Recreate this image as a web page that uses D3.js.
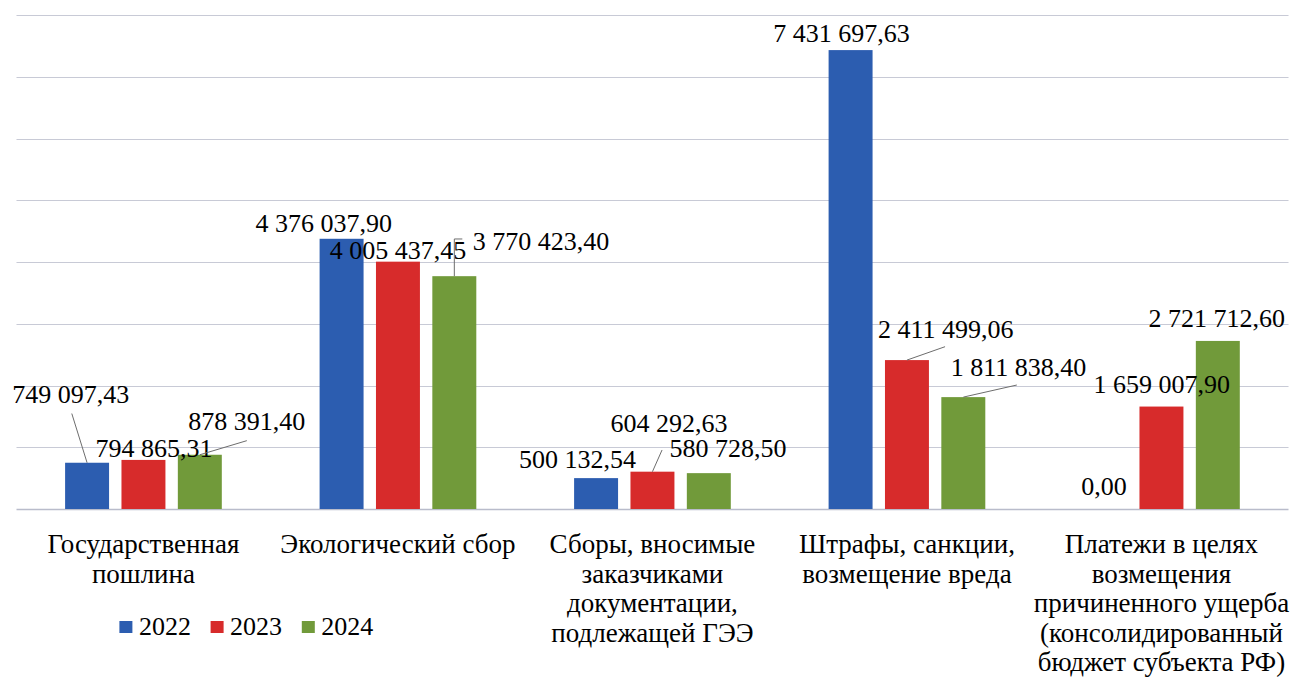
<!DOCTYPE html>
<html><head><meta charset="utf-8">
<script src="https://cdn.jsdelivr.net/npm/d3@7"></script>
</head>
<body style="margin:0">
<svg id="c" width="1291" height="680"></svg>
<script>
const categories = [
  ["Государственная","пошлина"],
  ["Экологический сбор"],
  ["Сборы, вносимые","заказчиками","документации,","подлежащей ГЭЭ"],
  ["Штрафы, санкции,","возмещение вреда"],
  ["Платежи в целях","возмещения","причиненного ущерба","(консолидированный","бюджет субъекта РФ)"]
];
const seriesNames = ["2022","2023","2024"];
const values2022 = [749097.43, 4376037.90, 500132.54, 7431697.63, 0.00];
const values2023 = [794865.31, 4005437.45, 604292.63, 2411499.06, 1659007.90];
const values2024 = [878391.40, 3770423.40, 580728.50, 1811838.40, 2721712.60];
const yTicks = [0,1000000,2000000,3000000,4000000,5000000,6000000,7000000,8000000];

const colors = ["#2C5DB0","#D72B2B","#719A3A"];
const labelLayout = [
  [{dx:-16.3,dy:-59.7,lead:[1,10.5]}, {dx:10.6,dy:-2.9}, {dx:47,dy:-24.8,lead:[0,10.7]}],
  [{dx:-17.9,dy:-6.8}, {dx:0,dy:-2.7}, {dx:86.6,dy:-26.2,elbow:true}],
  [{dx:-18.6,dy:-9.8}, {dx:16.6,dy:-39.7,lead:[-7,18]}, {dx:19.3,dy:-16.4}],
  [{dx:-9.1,dy:-8.1}, {dx:38.9,dy:-21.8,lead:[-0.8,8.4]}, {dx:55.1,dy:-21.4,lead:[-1.6,9.3]}],
  [{dx:-1.1,dy:-14}, {dx:0.3,dy:-13.3}, {dx:-1,dy:-14.2}]
];

const svg = d3.select("#c");
const series = [values2022, values2023, values2024];
const catIdx = categories.map((d,i)=>i);

const x0 = d3.scaleBand().domain(catIdx).range([16.2, 1288.7]).paddingInner(0).paddingOuter(0);
const x1 = d3.scaleBand().domain([0,1,2]).range([48.9, x0.bandwidth()-48.9]).paddingInner(0.22).paddingOuter(0);
const y = d3.scaleLinear().domain([0, 8000000]).range([509, 15]);

yTicks.forEach(t => {
  const yy = Math.round(y(t)) + 0.5;
  svg.append("line").attr("x1", 16.5).attr("x2", 1288.5).attr("y1", yy).attr("y2", yy)
    .attr("stroke", t===0 ? "#B9BCCB" : "#C8CAD6").attr("stroke-width", t===0 ? 1.5 : 1.2);
});

const fmt = v => {
  const parts = v.toFixed(2).split(".");
  const int = parts[0].replace(/\B(?=(\d{3})+(?!\d))/g, " ");
  return int + "," + parts[1];
};
const cells = [];
catIdx.forEach(i => series.forEach((s,j) => cells.push({i, j, v: s[i]})));

cells.forEach(d => {
  svg.append("rect")
    .attr("x", x0(d.i) + x1(d.j))
    .attr("width", x1.bandwidth())
    .attr("y", y(d.v))
    .attr("height", y(0) - y(d.v))
    .attr("fill", colors[d.j]);
});

cells.forEach(d => {
  const L = labelLayout[d.i][d.j];
  const bx = x0(d.i) + x1(d.j) + x1.bandwidth()/2;
  const by = y(d.v);
  const lx = bx + L.dx, ly = by + L.dy;
  if (L.lead) {
    svg.append("line")
      .attr("x1", lx + L.lead[0]).attr("y1", ly + L.lead[1])
      .attr("x2", bx).attr("y2", by)
      .attr("stroke", "#6d6d6d").attr("stroke-width", 1);
  }
  if (L.elbow) {
    const topY = ly - 11;
    svg.append("path")
      .attr("d", `M${bx+8},${topY} L${bx},${topY} L${bx},${by}`)
      .attr("fill","none").attr("stroke", "#6d6d6d").attr("stroke-width", 1);
  }
  svg.append("text").attr("x", lx).attr("y", ly).attr("font-size", 26)
    .attr("text-anchor","middle")
    .style("font-family", '"Liberation Serif"')
    .text(fmt(d.v));
});

categories.forEach((lines, i) => {
  const cx = x0(i) + x0.bandwidth()/2;
  lines.forEach((ln, k) => {
    svg.append("text").attr("x", cx).attr("y", 553 + k*29.5).attr("font-size", 27)
      .attr("text-anchor","middle")
      .style("font-family", '"Liberation Serif"')
      .text(ln);
  });
});

const legX = [119.4, 210.6, 301.8];
seriesNames.forEach((n, j) => {
  svg.append("rect").attr("x", legX[j]).attr("y", 621).attr("width", 13).attr("height", 12).attr("fill", colors[j]);
  svg.append("text").attr("x", legX[j] + 19.5).attr("y", 635).attr("font-size", 26)
    .style("font-family", '"Liberation Serif"').text(n);
});
</script>
</body></html>
